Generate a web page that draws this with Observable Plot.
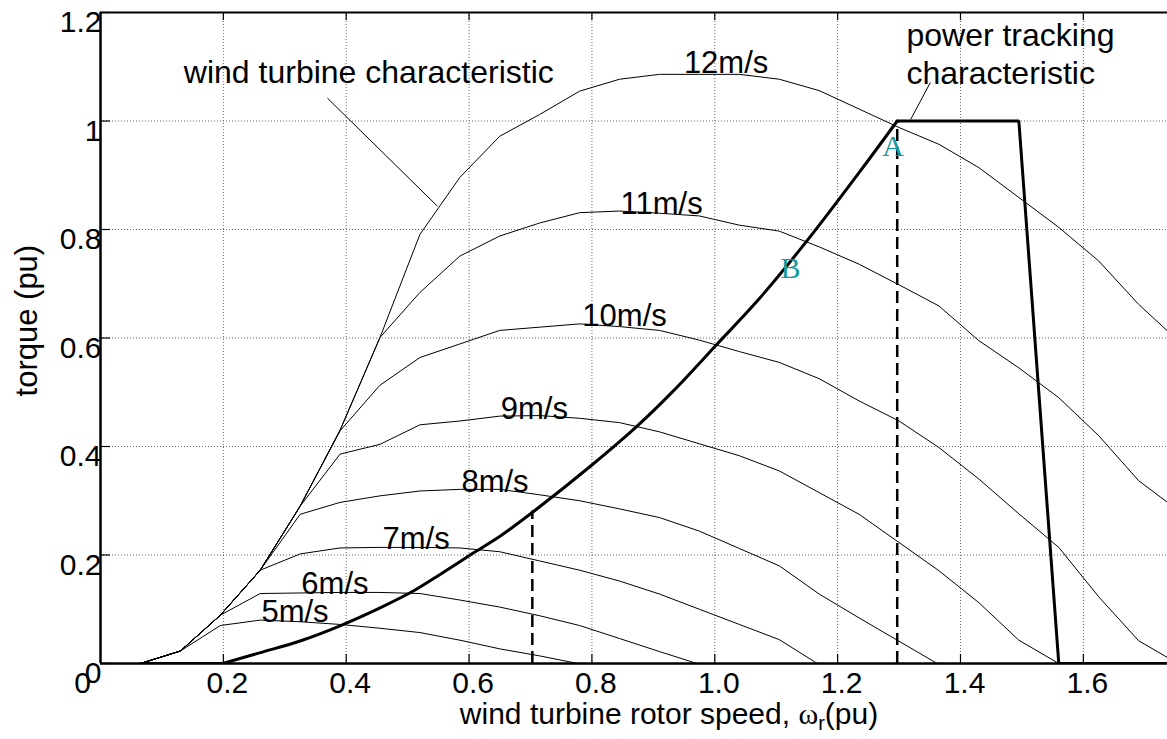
<!DOCTYPE html>
<html>
<head>
<meta charset="utf-8">
<script src="https://cdn.jsdelivr.net/npm/d3@7"></script>
<script src="https://cdn.jsdelivr.net/npm/@observablehq/plot@0.6"></script>
<style>
html, body { margin: 0; padding: 0; background: #fff; }
#chart svg { display: block; }
</style>
</head>
<body>
<div id="chart"></div>
<script>
// ---------- data ----------
const xTicks = [0.2, 0.4, 0.6, 0.8, 1.0, 1.2, 1.4, 1.6];
const yTicks = [0, 0.2, 0.4, 0.6, 0.8, 1, 1.2];

const curve5 = [[0.065,0],[0.13,0.023],[0.195,0.070],[0.26,0.080],[0.325,0.077],[0.39,0.072],[0.455,0.065],[0.52,0.057],[0.585,0.043],[0.65,0.027],[0.715,0.014],[0.777,0]];
const curve6 = [[0.065,0],[0.13,0.023],[0.195,0.089],[0.26,0.129],[0.325,0.130],[0.39,0.131],[0.455,0.131],[0.52,0.129],[0.585,0.117],[0.65,0.104],[0.715,0.088],[0.78,0.070],[0.845,0.046],[0.91,0.022],[0.971,0]];
const curve7 = [[0.065,0],[0.13,0.023],[0.195,0.089],[0.26,0.172],[0.325,0.202],[0.39,0.213],[0.455,0.214],[0.52,0.214],[0.585,0.213],[0.65,0.206],[0.715,0.189],[0.78,0.172],[0.845,0.152],[0.91,0.128],[0.975,0.100],[1.04,0.072],[1.105,0.044],[1.167,0]];
const curve8 = [[0.065,0],[0.13,0.023],[0.195,0.089],[0.26,0.172],[0.325,0.275],[0.39,0.297],[0.455,0.309],[0.52,0.318],[0.585,0.321],[0.65,0.321],[0.715,0.311],[0.78,0.300],[0.845,0.285],[0.91,0.269],[0.975,0.244],[1.04,0.212],[1.105,0.180],[1.17,0.128],[1.235,0.084],[1.30,0.041],[1.362,0]];
const curve9 = [[0.065,0],[0.13,0.023],[0.195,0.089],[0.26,0.172],[0.325,0.29],[0.39,0.386],[0.455,0.404],[0.52,0.440],[0.585,0.447],[0.65,0.456],[0.715,0.457],[0.78,0.452],[0.845,0.444],[0.91,0.427],[0.975,0.405],[1.04,0.383],[1.105,0.355],[1.17,0.315],[1.235,0.275],[1.30,0.223],[1.365,0.171],[1.43,0.112],[1.495,0.043],[1.56,0]];
const curve10 = [[0.065,0],[0.13,0.023],[0.195,0.089],[0.26,0.172],[0.325,0.29],[0.39,0.429],[0.455,0.513],[0.52,0.564],[0.585,0.589],[0.65,0.614],[0.715,0.620],[0.78,0.626],[0.845,0.621],[0.91,0.614],[0.975,0.596],[1.04,0.575],[1.105,0.555],[1.17,0.525],[1.235,0.484],[1.30,0.447],[1.365,0.398],[1.43,0.34],[1.495,0.276],[1.56,0.214],[1.625,0.123],[1.69,0.042],[1.737,0.011]];
const curve11 = [[0.065,0],[0.13,0.023],[0.195,0.089],[0.26,0.172],[0.325,0.29],[0.39,0.43],[0.455,0.601],[0.52,0.684],[0.585,0.751],[0.65,0.788],[0.715,0.812],[0.78,0.831],[0.845,0.834],[0.91,0.830],[0.975,0.825],[1.04,0.808],[1.105,0.797],[1.17,0.768],[1.235,0.736],[1.30,0.698],[1.365,0.659],[1.43,0.595],[1.495,0.545],[1.56,0.49],[1.625,0.42],[1.69,0.337],[1.737,0.297]];
const curve12 = [[0.065,0],[0.13,0.023],[0.195,0.089],[0.26,0.172],[0.325,0.29],[0.39,0.43],[0.455,0.601],[0.52,0.791],[0.585,0.896],[0.65,0.972],[0.715,1.012],[0.78,1.055],[0.845,1.077],[0.91,1.086],[0.975,1.086],[1.04,1.086],[1.105,1.077],[1.17,1.056],[1.235,1.022],[1.30,0.988],[1.365,0.957],[1.43,0.914],[1.495,0.859],[1.56,0.804],[1.625,0.742],[1.69,0.662],[1.737,0.613]];

const speedNames = ["5m/s","6m/s","7m/s","8m/s","9m/s","10m/s","11m/s","12m/s"];
const speedCurves = [curve5, curve6, curve7, curve8, curve9, curve10, curve11, curve12];
const speedLabelX = [0.262, 0.327, 0.459, 0.5875, 0.6515, 0.7844, 0.8467, 0.9497];
const speedLabelY = [0.0774, 0.1279, 0.2108, 0.3169, 0.4503, 0.6223, 0.829, 1.089];

// power tracking characteristic (thick): flat start, rising curve, plateau and drop
const trackStartX = [0.066, 0.199];
const trackStartY = [0, 0];
const trackRiseX = [0.199, 0.26, 0.326, 0.391, 0.456, 0.51, 0.554, 0.608, 0.651, 0.706, 0.798, 0.874, 0.933, 1.004, 1.069, 1.15, 1.237, 1.297];
const trackRiseY = [0, 0.020, 0.042, 0.070, 0.103, 0.134, 0.165, 0.2045, 0.235, 0.281, 0.364, 0.438, 0.503, 0.589, 0.668, 0.779, 0.908, 1.0];
const trackEndX = [1.297, 1.495, 1.56, 1.737];
const trackEndY = [1.0, 1.0, 0, 0];

// dashed verticals
const dashX = [0.703, 1.297];
const dashTop = [0.281, 1.0];

// annotation pointers
const pointerWind = [[0.3695, 1.042], [0.5485, 0.843]];
const pointerTrack = [[1.351, 1.071], [1.319, 1.003]];

// annotation texts
const noteText = ["wind turbine characteristic", "power tracking", "characteristic"];
const noteX = [0.1357, 1.312, 1.312];
const noteY = [1.0706, 1.138, 1.0676];

const pointText = ["A", "B"];
const pointX = [1.2725, 1.107];
const pointY = [0.9355, 0.7113];

const xTitle = "wind turbine rotor speed, \u03c9r(pu)";
const yTitle = "torque (pu)";
const yTitlePos = {x: -0.119, y: 0.632};

// ---------- layout ----------
const W = 1167, H = 739;
const mL = 100, mR = 0, mT = 12, mB = 76;
const frameW = W - mL - mR, frameH = H - mT - mB;

const curveRows = speedCurves.flatMap((c, i) => c.map(([x, y]) => ({x, y, speed: speedNames[i]})));
const labelRows = speedNames.map((s, i) => ({x: speedLabelX[i], y: speedLabelY[i], text: s}));
const rows = (X, Y) => X.map((x, i) => ({x, y: Y[i]}));
const trackStart = rows(trackStartX, trackStartY);
const trackRise = rows(trackRiseX, trackRiseY);
const trackEnd = rows(trackEndX, trackEndY);
const dashRows = dashX.map((x, i) => ({x, top: dashTop[i]}));
const pointerRows = [pointerWind, pointerTrack].map(p => ({x1: p[0][0], y1: p[0][1], x2: p[1][0], y2: p[1][1]}));
const noteRows = noteText.map((t, i) => ({x: noteX[i], y: noteY[i], text: t}));
const pointRows = pointText.map((t, i) => ({x: pointX[i], y: pointY[i], text: t}));

const sans = "'Liberation Sans', Arial, Helvetica, sans-serif";
const serif = "'Liberation Serif', 'Times New Roman', serif";

const thick = {stroke: "#000", strokeWidth: 3, strokeLinejoin: "miter", clip: true};

const chart = Plot.plot({
  width: W, height: H,
  marginLeft: mL, marginRight: mR, marginTop: mT, marginBottom: mB,
  style: {fontFamily: sans, background: "#fff", color: "#000"},
  x: {domain: [0, 1.737]},
  y: {domain: [0, 1.2]},
  marks: [
    // grid
    Plot.ruleX(xTicks, {x: d => d, stroke: "#666", strokeDasharray: "1,2", strokeWidth: 1}),
    Plot.ruleY(yTicks.slice(1, 6), {y: d => d, stroke: "#666", strokeDasharray: "1,2", strokeWidth: 1}),
    // inward ticks
    Plot.tickX(xTicks, {x: d => d, insetTop: frameH - 9, stroke: "#000", strokeWidth: 1.2}),
    Plot.tickX(xTicks, {x: d => d, insetBottom: frameH - 8, stroke: "#000", strokeWidth: 1.2}),
    Plot.tickY(yTicks, {y: d => d, insetRight: frameW - 10, stroke: "#000", strokeWidth: 1.2}),
    // axis tick labels
    Plot.axisX({ticks: xTicks, tickSize: 0, tickPadding: 8, tickFormat: d => d.toFixed(1), fontSize: 30, dx: 4, label: null}),
    Plot.axisX({ticks: [0], tickSize: 0, tickPadding: 8, tickFormat: () => "0", fontSize: 30, dx: -18, label: null}),
    Plot.axisY({ticks: yTicks, tickSize: 0, tickPadding: 0, tickFormat: d => String(d), fontSize: 30, dx: 1, dy: 10, label: null}),
    // wind turbine characteristics
    Plot.line(curveRows, {x: "x", y: "y", z: "speed", stroke: "#000", strokeWidth: 1, clip: true}),
    // dashed verticals
    Plot.ruleX(dashRows, {x: "x", y1: 0, y2: "top", stroke: "#000", strokeWidth: 2.5, strokeDasharray: "12,6"}),
    // power tracking characteristic
    Plot.line(trackStart, {x: "x", y: "y", ...thick}),
    Plot.line(trackRise, {x: "x", y: "y", curve: "catmull-rom", ...thick}),
    Plot.line(trackEnd, {x: "x", y: "y", ...thick}),
    // pointers
    Plot.link(pointerRows, {x1: "x1", y1: "y1", x2: "x2", y2: "y2", stroke: "#000", strokeWidth: 1}),
    // axes frame
    Plot.ruleY([1.2], {stroke: "#000", strokeWidth: 2}),
    Plot.ruleX([0], {stroke: "#000", strokeWidth: 2.5}),
    Plot.ruleY([0], {stroke: "#000", strokeWidth: 2.5}),
    // labels
    Plot.text(labelRows, {x: "x", y: "y", text: "text", textAnchor: "start", lineAnchor: "bottom", fontSize: 31, fill: "#000"}),
    Plot.text(noteRows, {x: "x", y: "y", text: "text", textAnchor: "start", lineAnchor: "bottom", fontSize: 32, fill: "#000"}),
    Plot.text(pointRows, {x: "x", y: "y", text: "text", textAnchor: "start", lineAnchor: "bottom", fontSize: 30, fontFamily: serif, fill: "#16999a"}),
    // axis titles
    Plot.text([yTitlePos], {x: "x", y: "y", text: () => yTitle, rotate: -90, textAnchor: "middle", lineAnchor: "middle", fontSize: 31, fill: "#000"}),
    Plot.text([xTitle], {text: d => d, frameAnchor: "bottom", textAnchor: "middle", lineAnchor: "bottom", dx: 35, dy: 60, fontSize: 30, fill: "#000"})
  ]
});

document.getElementById("chart").appendChild(chart);

// subscript for omega_r in the x-axis title
d3.select(chart).selectAll("text").each(function () {
  if (this.textContent === xTitle) {
    const t = d3.select(this);
    t.text(null).style("white-space", "pre");
    t.append("tspan").text("wind turbine rotor speed, ");
    t.append("tspan").attr("font-family", serif).text("\u03c9");
    t.append("tspan").attr("font-size", 20).attr("dy", 6).text("r");
    t.append("tspan").attr("dy", -6).text("(pu)");
  }
});
</script>
</body>
</html>
